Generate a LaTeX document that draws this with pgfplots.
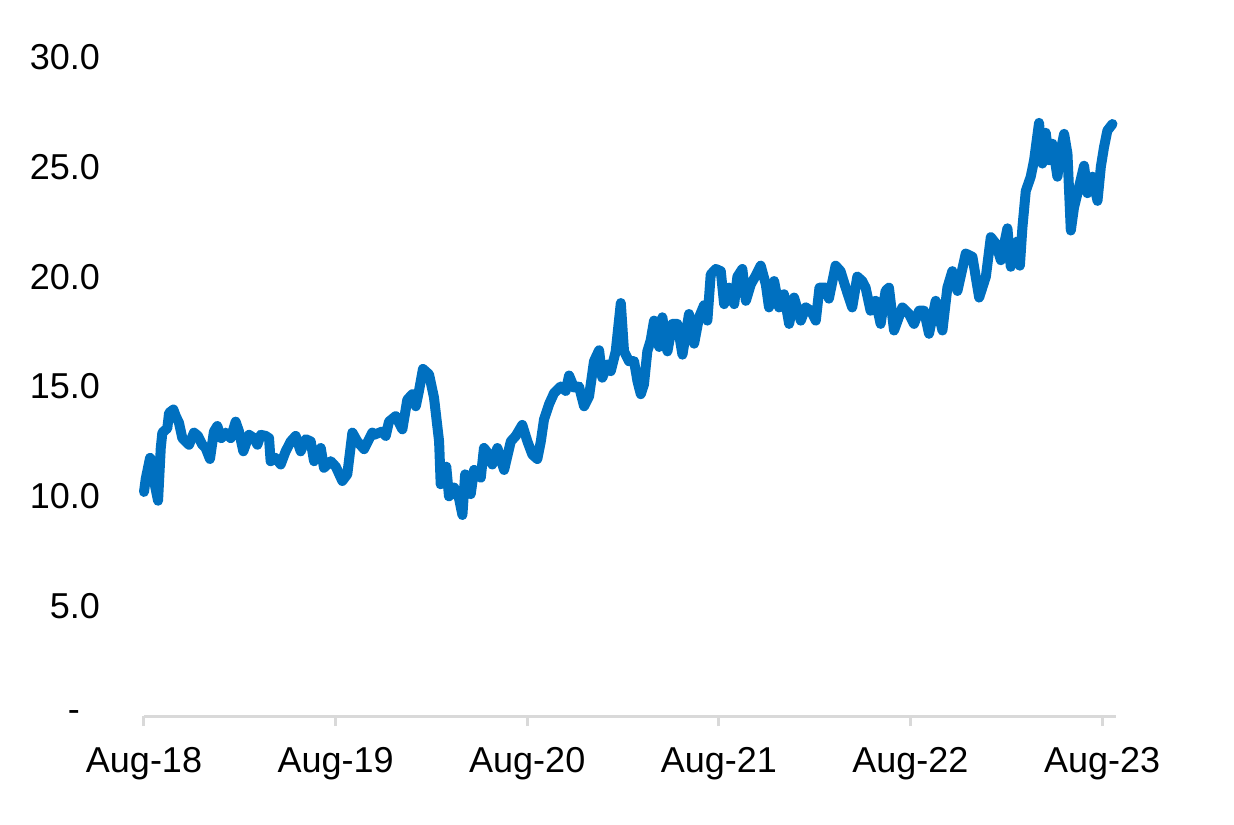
\documentclass[border=0pt]{standalone}
\usepackage{fontspec}
\setmainfont{Liberation Sans}
\usepackage{pgfplots}
\pgfplotsset{compat=1.18}
\definecolor{lineblue}{RGB}{0,112,192}
\definecolor{axgray}{RGB}{217,217,217}
\begin{document}
\begin{tikzpicture}
\useasboundingbox (-72pt,-54pt) rectangle (545pt,358pt);
\begin{axis}[
  at={(0pt,0pt)}, anchor=south west,
  scale only axis, width=486pt, height=329.5pt,
  xmin=0, xmax=60.87, ymin=0, ymax=30,
  axis lines*=left,
  x axis line style={axgray, line width=1.5pt},
  y axis line style={draw=none},
  xtick={0,12,24,36,48,60},
  xticklabels={Aug-18,Aug-19,Aug-20,Aug-21,Aug-22,Aug-23},
  ytick={0,5,10,15,20,25,30},
  yticklabels={{\makebox[16pt][l]{-}},5.0,10.0,15.0,20.0,25.0,30.0},
  tick align=outside,
  xtick style={axgray, line width=1.5pt},
  ytick style={draw=none},
  major tick length=5pt,
  tick label style={font=\fontsize{18}{22}\selectfont},
  yticklabel style={xshift=-13.5pt},
  xticklabel style={yshift=-7pt},
  clip=false,
]
\addplot[lineblue, line width=5pt, line join=round, line cap=round] table {
x y
0.00 10.2
0.11 10.8
0.38 11.75
0.52 11.6
0.63 10.7
0.88 9.8
1.05 12.2
1.15 12.9
1.46 13.1
1.57 13.8
1.84 13.95
1.99 13.65
2.19 13.35
2.40 12.65
2.82 12.35
3.13 12.9
3.38 12.75
3.65 12.35
3.86 12.2
4.13 11.7
4.38 12.95
4.59 13.2
4.84 12.65
5.12 12.9
5.43 12.65
5.74 13.4
5.95 12.95
6.22 12.05
6.58 12.8
6.89 12.65
7.10 12.35
7.31 12.8
7.62 12.75
7.83 12.65
7.93 11.6
8.25 11.75
8.56 11.45
8.87 12.05
9.19 12.5
9.50 12.75
9.81 12.05
10.13 12.6
10.44 12.5
10.65 11.6
11.07 12.2
11.27 11.3
11.69 11.6
12.01 11.35
12.42 10.7
12.73 11.0
13.05 12.9
13.36 12.5
13.78 12.15
14.30 12.9
14.40 12.8
14.92 12.95
15.14 12.75
15.34 13.4
15.76 13.65
16.18 13.05
16.49 14.4
16.81 14.65
17.02 14.1
17.22 14.8
17.47 15.8
17.85 15.55
18.16 14.5
18.48 12.5
18.58 10.55
18.93 11.35
19.10 10.0
19.42 10.4
19.73 9.9
19.94 9.15
20.11 11.0
20.46 10.1
20.67 11.2
21.09 10.85
21.29 12.2
21.61 11.9
21.81 11.45
22.13 12.2
22.55 11.2
22.97 12.5
23.28 12.75
23.69 13.25
24.01 12.5
24.32 11.9
24.63 11.7
24.85 12.5
25.05 13.5
25.37 14.2
25.68 14.7
26.10 15.0
26.41 14.8
26.62 15.5
26.93 14.95
27.24 15.0
27.56 14.1
27.87 14.55
28.18 16.15
28.50 16.65
28.70 15.4
29.02 16.0
29.23 15.7
29.54 16.6
29.86 18.8
30.06 16.6
30.37 16.15
30.69 16.15
30.90 15.25
31.11 14.65
31.31 15.1
31.52 16.6
31.73 17.1
31.94 18.0
32.26 16.8
32.46 18.15
32.78 16.6
33.09 17.85
33.40 17.85
33.72 16.45
34.13 18.3
34.45 16.95
34.76 18.15
35.07 18.7
35.28 18.0
35.49 20.1
35.81 20.35
36.12 20.25
36.33 18.75
36.64 19.5
36.96 18.75
37.16 20.0
37.47 20.35
37.69 18.9
38.00 19.65
38.31 20.05
38.62 20.5
38.94 19.65
39.14 18.6
39.46 19.8
39.77 18.6
40.08 19.2
40.40 17.85
40.71 19.05
41.13 18.0
41.44 18.6
41.76 18.45
42.07 18.0
42.30 19.5
42.69 19.5
42.89 19.0
43.31 20.5
43.62 20.25
43.94 19.5
44.35 18.6
44.67 20.0
44.98 19.8
45.19 19.5
45.50 18.45
45.82 18.9
46.13 17.85
46.44 19.35
46.65 19.5
46.97 17.55
47.49 18.6
47.91 18.3
48.22 17.85
48.54 18.45
48.85 18.45
49.16 17.4
49.58 18.9
50.00 17.55
50.31 19.5
50.62 20.25
50.94 19.35
51.46 21.05
51.88 20.9
52.30 19.05
52.72 20.0
53.03 21.8
53.35 21.5
53.66 20.75
54.07 22.2
54.28 20.45
54.49 21.35
54.69 21.6
54.85 20.5
55.01 22.25
55.22 23.9
55.53 24.55
55.74 25.3
56.05 27.0
56.26 25.15
56.47 26.55
56.68 25.3
56.89 26.05
57.20 24.55
57.41 25.75
57.62 26.5
57.83 25.6
58.04 22.1
58.24 23.15
58.56 24.1
58.87 25.05
59.08 23.8
59.40 24.55
59.71 23.45
59.92 25.0
60.12 25.9
60.33 26.65
60.65 26.95
};
\end{axis}
\end{tikzpicture}
\end{document}
